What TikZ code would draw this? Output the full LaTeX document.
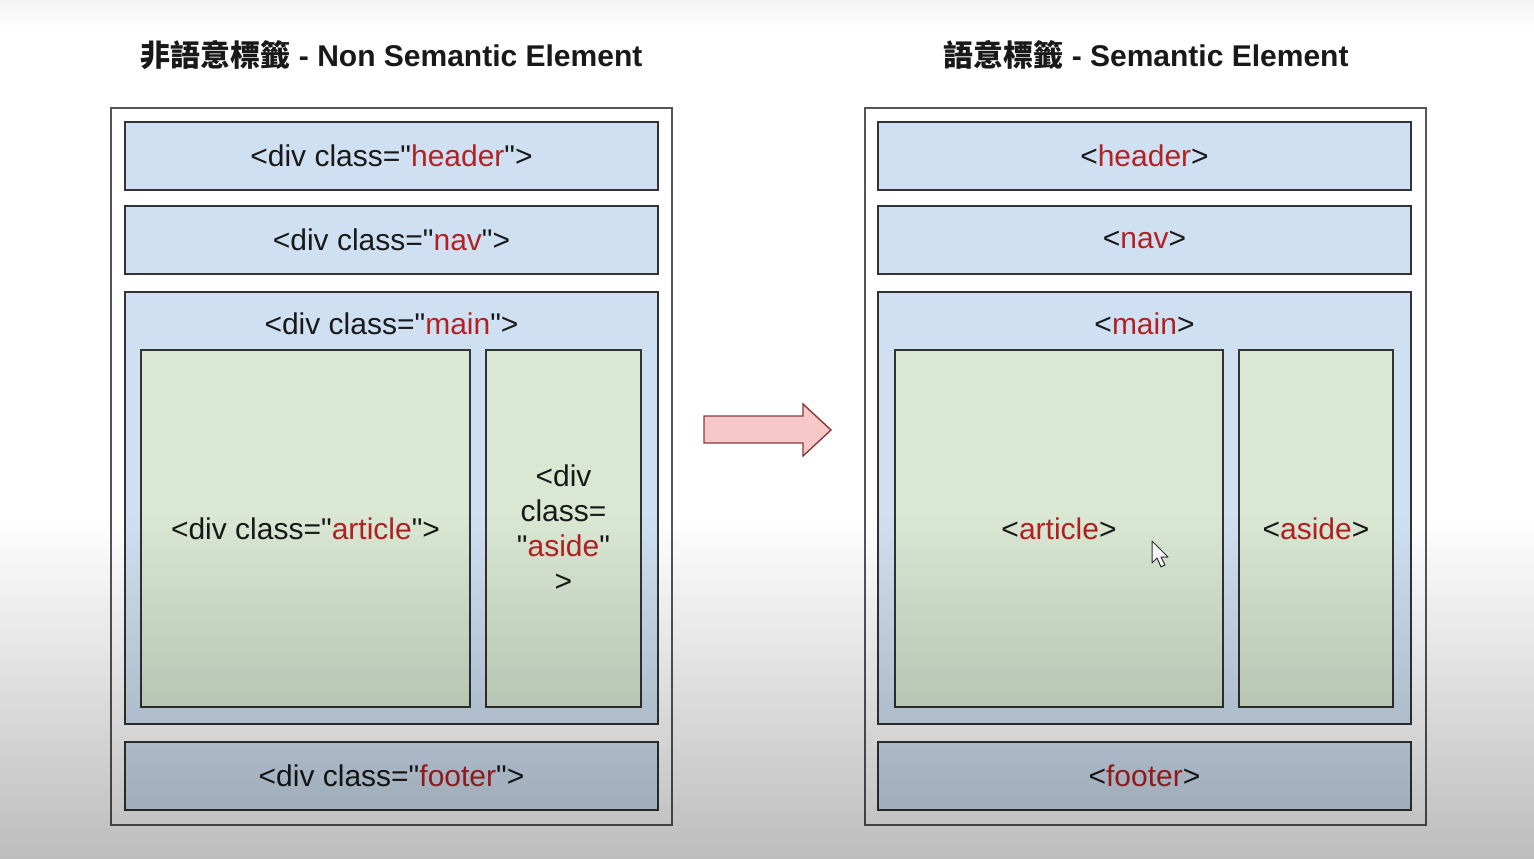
\documentclass[tikz,border=0pt]{standalone}
\usepackage{fontspec}
\setmainfont{Liberation Sans}[Ligatures=TeXOff]
\newfontfamily\cjk{Noto Sans CJK TC}
\usetikzlibrary{positioning, calc}
\definecolor{boxblue}{HTML}{CFE0F2}
\definecolor{boxgreen}{HTML}{D9E7D3}
\definecolor{tagred}{HTML}{B22222}
\definecolor{framegray}{HTML}{555555}
\definecolor{arrowpink}{HTML}{F6C8C8}
\definecolor{arrowred}{HTML}{8A3A3A}
\pgfdeclareverticalshading{vignette}{100bp}{color(0bp)=(black!26); color(25bp)=(black!26); color(45bp)=(white); color(73bp)=(white); color(75bp)=(black!4); color(100bp)=(black!4)}
\newcommand{\cls}[1]{\textcolor{tagred}{#1}}

\begin{document}
\begin{tikzpicture}[
    x=1pt, y=-1pt,
    every node/.style={font=\fontsize{30}{35}\selectfont, align=center, inner sep=0pt, text=black!90},
    title/.style={font=\fontsize{30}{35}\selectfont\bfseries},
    page/.style={draw=framegray, fill=white, line width=1.6pt,
                 minimum width=561pt, minimum height=717pt},
    bar/.style={draw=black!80, fill=boxblue, line width=1.6pt,
                minimum width=533pt, minimum height=68pt},
    mainbox/.style={draw=black!80, fill=boxblue, line width=1.6pt,
                    minimum width=533pt, minimum height=432pt},
    cell/.style={draw=black!80, fill=boxgreen, line width=1.6pt, minimum height=357pt},
    blockarrow/.style={draw=arrowred, fill=arrowpink, line width=1.4pt, line join=miter},
    pointer/.style={draw=black!80, fill=white, line width=1pt, line join=round}
]

% Canvas
\fill[white] (0,0) rectangle (1534,859);

% Titles
\node[title] (ltitle) at (391.5,55) {{\cjk\bfseries 非語意標籤} - Non Semantic Element};
\node[title] (rtitle) at (1146,55) {{\cjk\bfseries 語意標籤} - Semantic Element};

% Left: non semantic
\node[page] (lpage) at (391.5,466.5) {};
\node[bar] (lhead) at (391.5,156) {<div class="\cls{header}">};
\node[bar, below=14.4pt of lhead] (lnav) {<div class="\cls{nav}">};
\node[mainbox, below=16.4pt of lnav] (lmain) {};
\node (lmainlbl) at ($(lmain.north)+(0,33)$) {<div class="\cls{main}">};
\node[cell, minimum width=329pt] (larticle) at (305.5,528.5) {<div class="\cls{article}">};
\node[cell, minimum width=155pt] (laside) at (563.5,528.5) {<div\\class=\\"\cls{aside}"\\>};
\node[bar, below=16.4pt of lmain] (lfoot) {<div class="\cls{footer}">};

% Right: semantic
\node[page] (rpage) at (1145.5,466.5) {};
\node[bar] (rhead) at (1144.5,156) {<\cls{header}>};
\node[bar, below=14.4pt of rhead] (rnav) {<\cls{nav}>};
\node[mainbox, below=16.4pt of rnav] (rmain) {};
\node (rmainlbl) at ($(rmain.north)+(0,33)$) {<\cls{main}>};
\node[cell, minimum width=328pt] (rarticle) at (1059,528.5) {<\cls{article}>};
\node[cell, minimum width=154pt] (raside) at (1316,528.5) {<\cls{aside}>};
\node[bar, below=16.4pt of rmain] (rfoot) {<\cls{footer}>};

% Arrow between the panels
\draw[blockarrow] (704,416) -- (803,416) -- (803,404) -- (831,430)
    -- (803,456) -- (803,443) -- (704,443) -- cycle;

% Mouse pointer
\draw[pointer] (1152,541) -- (1152,563) -- (1157,558) -- (1161,567)
    -- (1165,565) -- (1161,557) -- (1168,557) -- cycle;

% Screen shading
\begin{scope}[blend mode=multiply]
\shade[shading=vignette] (0,0) rectangle (1534,859);
\end{scope}

\end{tikzpicture}
\end{document}
